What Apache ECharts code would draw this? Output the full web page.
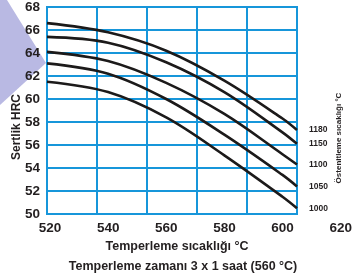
<!DOCTYPE html>
<html>
<head>
<meta charset="utf-8">
<script src="https://cdn.jsdelivr.net/npm/echarts@6/dist/echarts.min.js"></script>
<style>
  html, body { margin: 0; padding: 0; background: #ffffff; }
  #chart { width: 355px; height: 278px; }
</style>
</head>
<body>
<div id="chart"></div>
<script>
  // temperleme sıcaklığı (°C) – noktalar
  const temps = [519, 540, 560, 580, 600, 605];
  // östenitleme sıcaklıkları (eğri adları)
  const austenitizing = ['1180', '1150', '1100', '1050', '1000'];
  // sertlik HRC
  const hrc1180 = [66.6, 65.8, 64.2, 61.6, 58.3, 57.3];
  const hrc1150 = [65.4, 64.9, 63.2, 60.6, 57.1, 56.1];
  const hrc1100 = [64.1, 63.3, 61.4, 58.7, 55.2, 54.3];
  const hrc1050 = [63.1, 62.2, 60.0, 56.9, 53.4, 52.4];
  const hrc1000 = [61.5, 60.6, 58.4, 55.1, 51.5, 50.5];
  const xTicks = [520, 540, 560, 580, 600, 620];
  const yTicks = [50, 52, 54, 56, 58, 60, 62, 64, 66, 68];

  const curves = [hrc1180, hrc1150, hrc1100, hrc1050, hrc1000];
  const BLUE = '#1796da';
  const FONT = 'Liberation Sans, Arial, sans-serif';

  const chart = echarts.init(document.getElementById('chart'));

  const series = curves.map((vals, i) => ({
    name: austenitizing[i],
    type: 'line',
    xAxisIndex: 1,
    yAxisIndex: 0,
    smooth: 0.35,
    symbol: 'none',
    silent: true,
    z: 5,
    lineStyle: { color: '#1c1a1a', width: 2.6 },
    endLabel: {
      show: true,
      formatter: '{a}',
      distance: 12,
      color: '#231f20',
      fontFamily: FONT,
      fontWeight: 'bold',
      fontSize: 8.5,
    },
    data: temps.map((t, j) => [t, vals[j]]),
  }));

  const option = {
    animation: false,
    graphic: [
      {
        type: 'polygon',
        z: -10,
        shape: { points: [[0, 0], [7, 0], [46, 63], [0, 105]] },
        style: { fill: '#b9b9e3' },
      },
      {
        type: 'text',
        x: 177,
        y: 247,
        style: { text: 'Temperleme sıcaklığı °C', fill: '#231f20', font: 'bold 12.5px ' + FONT, textAlign: 'center', textVerticalAlign: 'middle' },
      },
      {
        type: 'text',
        x: 183,
        y: 267,
        style: { text: 'Temperleme zamanı 3 x 1 saat (560 °C)', fill: '#231f20', font: 'bold 12.5px ' + FONT, textAlign: 'center', textVerticalAlign: 'middle' },
      },
      {
        type: 'text',
        x: 17,
        y: 127,
        rotation: Math.PI / 2,
        style: { text: 'Sertlik HRC', fill: '#231f20', font: 'bold 12px ' + FONT, textAlign: 'center', textVerticalAlign: 'middle' },
      },
      {
        type: 'text',
        x: 339,
        y: 138,
        rotation: Math.PI / 2,
        style: { text: 'Östenitleme sıcaklığı °C', fill: '#231f20', font: 'bold 8px "Liberation Sans Narrow", ' + FONT, textAlign: 'center', textVerticalAlign: 'middle' },
      },
    ],
    grid: [
      { left: 47, top: 6, width: 250, height: 208, show: true, backgroundColor: '#ffffff', borderColor: BLUE, borderWidth: 2 },
      { left: 50, top: 6, width: 291, height: 208 },
    ],
    xAxis: [
      {
        // mavi dikey ızgara çizgileri
        gridIndex: 0,
        type: 'value',
        min: 0,
        max: 5,
        interval: 1,
        axisLine: { show: false },
        axisTick: { show: false },
        axisLabel: { show: false },
        splitLine: { show: true, lineStyle: { color: BLUE, width: 2 } },
      },
      {
        // veri ekseni
        gridIndex: 0,
        type: 'value',
        min: 519,
        max: 605,
        show: false,
      },
      {
        // etiket ekseni
        gridIndex: 1,
        type: 'value',
        min: xTicks[0],
        max: xTicks[xTicks.length - 1],
        interval: 20,
        axisLine: { show: false },
        axisTick: { show: false },
        splitLine: { show: false },
        axisLabel: {
          margin: 7,
          color: '#231f20',
          fontFamily: FONT,
          fontWeight: 'bold',
          fontSize: 13.5,
          showMinLabel: true,
          showMaxLabel: true,
        },
      },
    ],
    yAxis: [
      {
        gridIndex: 0,
        type: 'value',
        min: yTicks[0],
        max: yTicks[yTicks.length - 1],
        interval: 2,
        axisLine: { show: false },
        axisTick: { show: false },
        splitLine: { show: true, lineStyle: { color: BLUE, width: 2 } },
        axisLabel: {
          margin: 7,
          color: '#231f20',
          fontFamily: FONT,
          fontWeight: 'bold',
          fontSize: 13.5,
        },
      },
      {
        gridIndex: 1,
        type: 'value',
        min: 50,
        max: 68,
        show: false,
      },
    ],
    series: series,
  };

  chart.setOption(option);
</script>
</body>
</html>
